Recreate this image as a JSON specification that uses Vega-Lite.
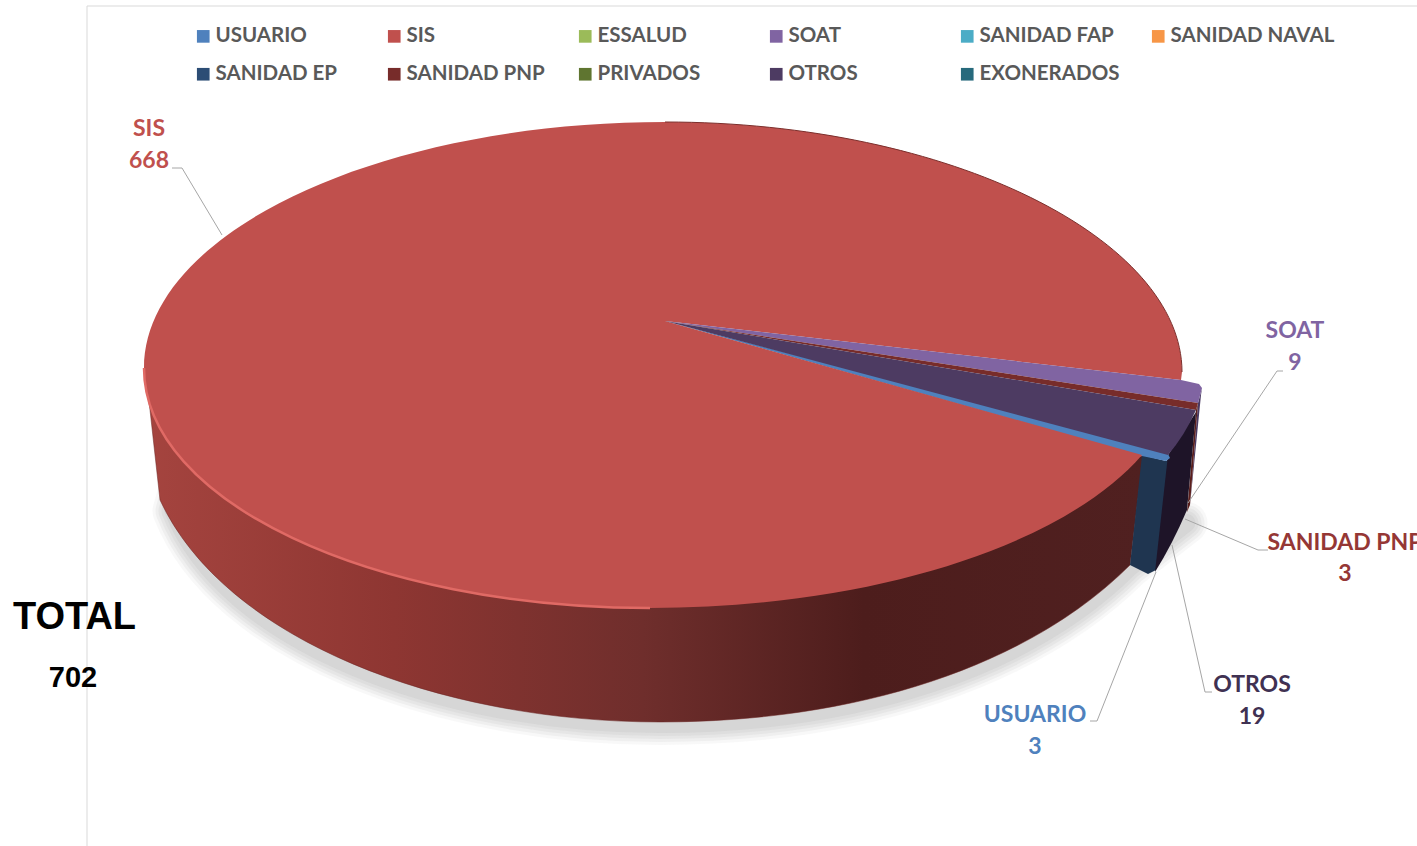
{
"$schema":"https://vega.github.io/schema/vega-lite/v6.json",
"width":1417,"height":846,"padding":0,"autosize":"none",
"background":"white","view":{"stroke":null},
"data":{"values":[
{"payer":"USUARIO","value":3},{"payer":"SIS","value":668},{"payer":"ESSALUD","value":0},{"payer":"SOAT","value":9},{"payer":"SANIDAD FAP","value":0},{"payer":"SANIDAD NAVAL","value":0},{"payer":"SANIDAD EP","value":0},{"payer":"SANIDAD PNP","value":3},{"payer":"PRIVADOS","value":0},{"payer":"OTROS","value":19},{"payer":"EXONERADOS","value":0}]},
"resolve":{"scale":{"shape":"independent","fill":"independent"}},
"layer":[
{"transform":[{"filter":"datum.payer==='SIS'"}],"mark":{"type":"point","size":4,"filled":false,"strokeJoin":"round","stroke":"#a0a0a0","strokeOpacity":0.08,"strokeWidth":42,"opacity":1,"shape":"M -530 70 L -535 88 C -483.5 219 -268.5 301 -48.5 301 C 151.5 301 321.5 244 421.5 144 L 478 100 Z"}},
{"transform":[{"filter":"datum.payer==='SIS'"}],"mark":{"type":"point","size":4,"filled":false,"strokeJoin":"round","stroke":"#a0a0a0","strokeOpacity":0.09,"strokeWidth":36,"opacity":1,"shape":"M -530 70 L -535 88 C -483.5 219 -268.5 301 -48.5 301 C 151.5 301 321.5 244 421.5 144 L 478 100 Z"}},
{"transform":[{"filter":"datum.payer==='SIS'"}],"mark":{"type":"point","size":4,"filled":false,"strokeJoin":"round","stroke":"#a0a0a0","strokeOpacity":0.1,"strokeWidth":30,"opacity":1,"shape":"M -530 70 L -535 88 C -483.5 219 -268.5 301 -48.5 301 C 151.5 301 321.5 244 421.5 144 L 478 100 Z"}},
{"transform":[{"filter":"datum.payer==='SIS'"}],"mark":{"type":"point","size":4,"filled":false,"strokeJoin":"round","stroke":"#a0a0a0","strokeOpacity":0.11,"strokeWidth":24,"opacity":1,"shape":"M -530 70 L -535 88 C -483.5 219 -268.5 301 -48.5 301 C 151.5 301 321.5 244 421.5 144 L 478 100 Z"}},
{"transform":[{"filter":"datum.payer==='SIS'"}],"mark":{"type":"point","size":4,"filled":false,"strokeJoin":"round","stroke":"#a0a0a0","strokeOpacity":0.12,"strokeWidth":18,"opacity":1,"shape":"M -530 70 L -535 88 C -483.5 219 -268.5 301 -48.5 301 C 151.5 301 321.5 244 421.5 144 L 478 100 Z"}},
{"transform":[{"filter":"datum.payer==='SIS'"}],"mark":{"type":"point","size":4,"filled":true,"opacity":1,"stroke":"#6b2422","strokeWidth":0.5,"shape":"M -564.5 -55 L -558.5 -13 L -548.5 77 C -483.5 217 -268.5 299 -48.5 299 C 151.5 299 321.5 242 421.5 142 L 434.5 33 L -58.5 77 Z","fill":{"gradient":"linear","x1":0,"y1":0,"x2":1,"y2":0,"stops":[{"offset":0,"color":"#A5443F"},{"offset":0.25,"color":"#8E3632"},{"offset":0.5,"color":"#6F2E2C"},{"offset":0.72,"color":"#4D1D1C"},{"offset":1,"color":"#502020"}]}}},
{"transform":[{"filter":"datum.payer!=='SIS' && datum.value>0"}],"mark":{"type":"point","size":4,"filled":true,"opacity":1},
 "encoding":{
  "shape":{"field":"payer","type":"nominal","legend":null,"scale":{"domain":["SOAT","SANIDAD PNP","OTROS","USUARIO"],"range":[
   "M 489.5 -20 L 493.5 -35 L 492.5 -28 L 481.5 82 Z",
   "M 487.5 -13 L 489.5 -20 L 481.5 82 L 478.5 89 Z",
   "M 459.5 32 L 487.5 -11 L 478.5 87 Q 463.5 122 446.5 149 Z",
   "M 433.5 32 L 457.5 38 L 461.5 35 L 447.5 147 L 439.5 151 L 421.5 142 Z"]}},
  "fill":{"field":"payer","type":"nominal","legend":null,"scale":{"domain":["SOAT","SANIDAD PNP","OTROS","USUARIO"],"range":["#4A3A63","#5A1F1D","#1E1428","#1F3550"]}}}},
{"transform":[{"filter":"datum.value>0"}],"mark":{"type":"point","size":4,"filled":true,"opacity":1},
 "encoding":{
  "shape":{"field":"payer","type":"nominal","legend":null,"scale":{"domain":["SIS","SOAT","SANIDAD PNP","OTROS","USUARIO"],"range":[
   "M -43.5 -102 L 472.5 -43 L 473.5 -51 C 473.5 -183 242.5 -301 -43.5 -301 C -332.5 -301 -564.5 -189 -564.5 -55 C -564.5 78 -337.5 185 -58.5 185 C 158.5 185 353.5 124 433.5 32 Z",
   "M -43.5 -102 L 472.5 -43 L 490.5 -39 L 493.5 -35 L 489.5 -20 Z",
   "M -43.5 -102 L 489.5 -20 L 487.5 -13 Z",
   "M -43.5 -102 L 487.5 -13 Q 476.5 12 459.5 32 Z",
   "M -43.5 -102 L 458.5 29 L 461.5 35 L 457.5 38 L 433.5 33 Z"]}},
  "color":{"field":"payer","type":"nominal","scale":{"domain":["USUARIO","SIS","ESSALUD","SOAT","SANIDAD FAP","SANIDAD NAVAL","SANIDAD EP","SANIDAD PNP","PRIVADOS","OTROS","EXONERADOS"],"range":["#4F81BD","#C0504D","#9BBB59","#8064A2","#4BACC6","#F79646","#2C4D75","#772C2A","#5F7530","#4D3B62","#276A7C"]},
   "legend":{"orient":"none","legendX":193,"legendY":26,"columns":6,"direction":"horizontal","title":null,"symbolType":"square","symbolSize":160,"symbolOpacity":1,"gridAlign":"all","columnPadding":4,"rowPadding":17,"labelFont":"Lato","labelFontSize":20.5,"labelFontWeight":"bold","labelColor":"#595959","labelLimit":300,"labelOffset":2,"symbolStrokeWidth":0}}}},
{"transform":[{"filter":"datum.payer==='SIS'"}],"mark":{"type":"point","size":4,"filled":false,"opacity":1,"stroke":"#E06A65","strokeWidth":2.5,"shape":"M -564.5 -55 C -564.5 78 -337.5 185 -58.5 185"}},
{"transform":[{"filter":"datum.payer==='SIS'"}],"mark":{"type":"point","size":4,"filled":false,"opacity":1,"stroke":"#7C2F2C","strokeWidth":1,"shape":"M 473.5 -51 C 473.5 -183 242.5 -301 -43.5 -301"}},
{"transform":[{"filter":"datum.value>0"}],"mark":{"type":"point","size":4,"filled":false,"opacity":1,"stroke":"#A6A6A6","strokeWidth":1},
 "encoding":{"shape":{"field":"payer","type":"nominal","legend":null,"scale":{"domain":["SIS","SOAT","SANIDAD PNP","OTROS","USUARIO"],"range":[
   "M -536.5 -255 L -526.5 -255 L -486.5 -188",
   "M 574.5 -52 L 568.5 -52 L 479.5 80",
   "M 559.5 127 L 549.5 127 L 476.5 96",
   "M 503.5 269 L 496.5 269 L 463.5 122",
   "M 381.5 298 L 388.5 298 L 447.5 149"]}}}},
{"transform":[{"filter":"datum.payer==='SIS'"}],"mark":{"type":"point","size":4,"filled":false,"opacity":1,"stroke":"#D9D9D9","strokeWidth":1,"shape":"M -621.5 423 L -621.5 -417 L 708.5 -417"}},
{"transform":[{"filter":"datum.payer==='SIS'"}],"mark":{"type":"text","font":"Lato","fontWeight":"bold","fontSize":23,"fill":"#C0504D","dx":-559.5,"dy":-294},"encoding":{"text":{"field":"payer"}}},
{"transform":[{"filter":"datum.payer==='SIS'"}],"mark":{"type":"text","font":"Lato","fontWeight":"bold","fontSize":23,"fill":"#C0504D","dx":-559.5,"dy":-262},"encoding":{"text":{"field":"value"}}},
{"transform":[{"filter":"datum.payer==='SOAT'"}],"mark":{"type":"text","font":"Lato","fontWeight":"bold","fontSize":23,"fill":"#8064A2","dx":586.5,"dy":-92},"encoding":{"text":{"field":"payer"}}},
{"transform":[{"filter":"datum.payer==='SOAT'"}],"mark":{"type":"text","font":"Lato","fontWeight":"bold","fontSize":23,"fill":"#8064A2","dx":586.5,"dy":-60},"encoding":{"text":{"field":"value"}}},
{"transform":[{"filter":"datum.payer==='SANIDAD PNP'"}],"mark":{"type":"text","font":"Lato","fontWeight":"bold","fontSize":23,"fill":"#953735","dx":636.5,"dy":120},"encoding":{"text":{"field":"payer"}}},
{"transform":[{"filter":"datum.payer==='SANIDAD PNP'"}],"mark":{"type":"text","font":"Lato","fontWeight":"bold","fontSize":23,"fill":"#953735","dx":636.5,"dy":151},"encoding":{"text":{"field":"value"}}},
{"transform":[{"filter":"datum.payer==='OTROS'"}],"mark":{"type":"text","font":"Lato","fontWeight":"bold","fontSize":23,"fill":"#403152","dx":543.5,"dy":262},"encoding":{"text":{"field":"payer"}}},
{"transform":[{"filter":"datum.payer==='OTROS'"}],"mark":{"type":"text","font":"Lato","fontWeight":"bold","fontSize":23,"fill":"#403152","dx":543.5,"dy":294},"encoding":{"text":{"field":"value"}}},
{"transform":[{"filter":"datum.payer==='USUARIO'"}],"mark":{"type":"text","font":"Lato","fontWeight":"bold","fontSize":23,"fill":"#4F81BD","dx":326.5,"dy":292},"encoding":{"text":{"field":"payer"}}},
{"transform":[{"filter":"datum.payer==='USUARIO'"}],"mark":{"type":"text","font":"Lato","fontWeight":"bold","fontSize":23,"fill":"#4F81BD","dx":326.5,"dy":324},"encoding":{"text":{"field":"value"}}},
{"transform":[{"filter":"datum.payer==='SIS'"}],"mark":{"type":"text","text":"TOTAL","font":"Liberation Sans","fontWeight":"bold","fontSize":38,"fill":"#000000","dx":-634,"dy":195},"encoding":{}},
{"transform":[{"aggregate":[{"op":"sum","field":"value","as":"total"}]}],"mark":{"type":"text","font":"Liberation Sans","fontWeight":"bold","fontSize":29,"fill":"#000000","dx":-635.5,"dy":255},"encoding":{"text":{"field":"total","type":"quantitative"}}}
]
}
